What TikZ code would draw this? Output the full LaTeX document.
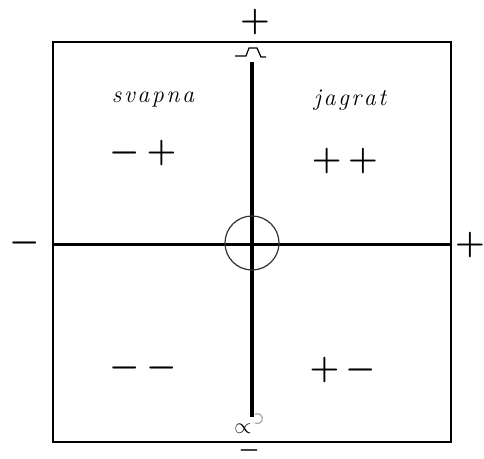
\RequirePackage{fix-cm}
\documentclass[tikz,border=0pt]{standalone}
\usepackage{amsmath}
\tikzset{
  sign/.style={inner sep=0pt, font=\fontsize{34}{34}\selectfont\boldmath},
  lbl/.style={inner sep=0pt, font=\fontsize{24}{28}\selectfont\itshape},
  frame/.style={line width=1.4pt},
  axis/.style={line width=3pt},
  vaxis/.style={line width=3.6pt},
  thin/.style={line width=1.2pt}
}
\newcommand{\spc}{\hspace{2.5pt}}
\begin{document}
\begin{tikzpicture}[x=1pt,y=-1pt]
\useasboundingbox (0,0) rectangle (484,458);
% frame
\coordinate (tl) at (53,42);
\coordinate (br) at (451,442);
\draw[frame] (tl) rectangle (br);
% axes
\coordinate (hl) at (53,244);
\coordinate (hr) at (451,244);
\coordinate (vt) at (252,62);
\coordinate (vb) at (252,417);
\draw[axis] (hl) -- (hr);
\draw[vaxis] (vt) -- (vb);
% centre circle
\coordinate (o) at (252,243);
\draw[thin, black!80] (o) circle[radius=27];
% pulse symbol at top
\coordinate (p1) at (235,56);
\coordinate (p2) at (246,56);
\coordinate (p3) at (249,48);
\coordinate (p4) at (257,48);
\coordinate (p5) at (261,57);
\coordinate (p6) at (266,57);
\draw[thin] (p1) -- (p2) -- (p3) -- (p4) -- (p5) -- (p6);
% axis end signs
\node[sign] (top) at (255,22) {${+}$};
\node[sign] (left) at (25,243) {${-}$};
\node[sign] (right) at (470,245) {${+}$};
\node[sign, font=\fontsize{24}{24}\selectfont\boldmath] (bot) at (249,450) {${-}$};
\node[inner sep=0pt, font=\fontsize{22}{22}\selectfont] (prop) at (243,429) {$\propto$};
\draw[thin, black!35] (255,423) arc[start angle=120, end angle=-120, radius=5];
% quadrant labels
\node[lbl] (svapna) at (153,100) {s\spc v\spc a\spc p\spc n\spc a};
\node[lbl] (jagrat) at (350,100) {j\spc a\spc g\spc r\spc a\spc t};
% quadrant signs
\node[sign] (mp) at (143,153) {${-}\mkern3mu{+}$};
\node[sign] (pp) at (345,161) {${+}\mkern3mu{+}$};
\node[sign] (mm) at (143,368) {${-}\mkern3mu{-}$};
\node[sign] (pm) at (343,370) {${+}\mkern3mu{-}$};
\end{tikzpicture}
\end{document}
